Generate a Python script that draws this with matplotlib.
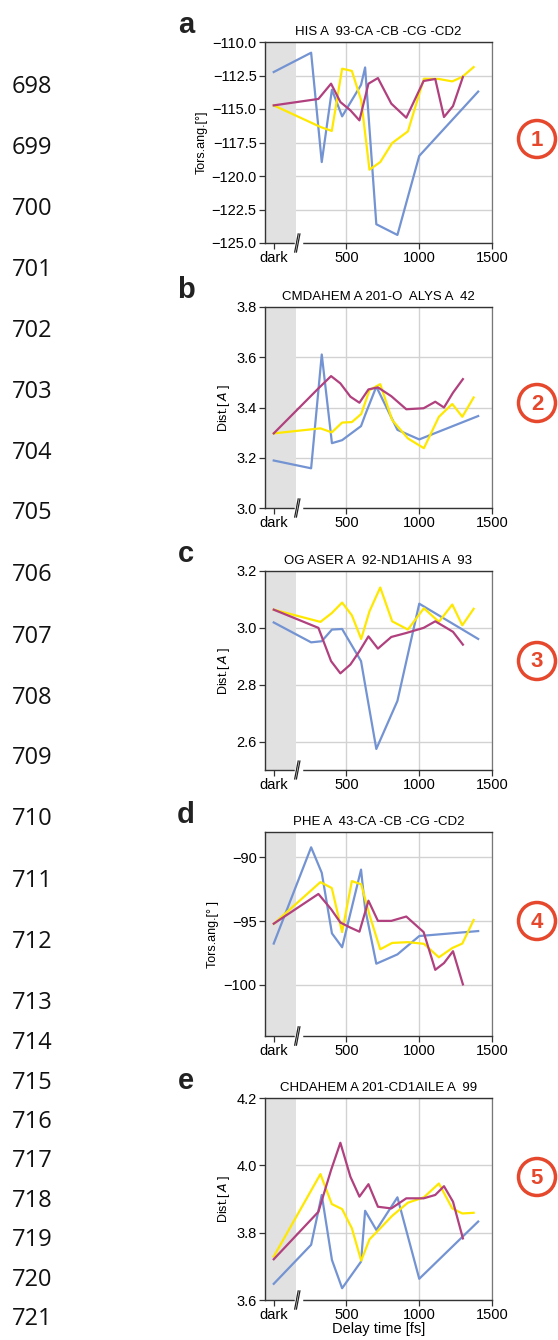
import matplotlib
matplotlib.use("Agg")
import matplotlib.pyplot as plt
from matplotlib.patches import Ellipse, Rectangle
from matplotlib.lines import Line2D
import matplotlib.transforms as mtransforms

plt.rcParams['font.family'] = ['Liberation Sans', 'DejaVu Sans']
plt.rcParams['axes.unicode_minus'] = True

# ---------------- data ----------------
t_blue = [0, 257, 330, 400, 470, 600, 628, 705, 850, 1000, 1405]
t_yellow = [0, 321, 399, 470, 537, 601, 658, 732, 814, 922, 1032, 1135, 1227, 1296, 1374]
t_purple = [0, 307, 394, 458, 527, 589, 651, 716, 808, 911, 1030, 1110, 1170, 1232, 1300]

a_blue = [-112.24, -110.8, -118.96, -113.56, -115.55, -113.2, -111.9, -123.6, -124.4, -118.5, -113.7]
a_yellow = [-114.73, -116.34, -116.64, -111.99, -112.16, -114.35, -119.53, -118.96, -117.54, -116.67,
            -112.74, -112.76, -112.94, -112.6, -111.87]
a_purple = [-114.73, -114.25, -113.11, -114.48, -115.1, -115.85, -113.11, -112.69, -114.6, -115.65,
            -112.91, -112.76, -115.6, -114.78, -112.61]

b_blue = [3.189, 3.158, 3.611, 3.258, 3.27, 3.326, 3.37, 3.483, 3.311, 3.273, 3.366]
b_yellow = [3.297, 3.317, 3.301, 3.340, 3.342, 3.374, 3.469, 3.493, 3.350, 3.277, 3.238, 3.363,
            3.414, 3.363, 3.440]
b_purple = [3.297, 3.476, 3.525, 3.496, 3.443, 3.419, 3.472, 3.48, 3.445, 3.393, 3.397, 3.423,
            3.40, 3.459, 3.513]

c_blue = [3.019, 2.949, 2.953, 2.994, 2.996, 2.883, 2.80, 2.574, 2.743, 3.085, 2.961]
c_yellow = [3.064, 3.021, 3.052, 3.089, 3.044, 2.961, 3.058, 3.142, 3.023, 2.994, 3.069, 3.021,
            3.082, 3.009, 3.067]
c_purple = [3.064, 3.0, 2.883, 2.84, 2.871, 2.918, 2.970, 2.927, 2.968, 2.982, 3.0, 3.023,
            3.005, 2.986, 2.941]

d_blue = [-96.75, -89.2, -91.2, -95.95, -97.04, -90.95, -94.0, -98.33, -97.6, -96.16, -95.77]
d_yellow = [-95.2, -91.93, -92.4, -95.85, -91.85, -92.1, -94.5, -97.2, -96.7, -96.64, -96.77,
            -97.83, -97.1, -96.75, -94.9]
d_purple = [-95.19, -92.86, -94.05, -95.1, -95.5, -95.82, -93.39, -94.97, -94.97, -94.63, -95.85,
            -98.81, -98.28, -97.35, -99.95]

e_blue = [3.648, 3.764, 3.912, 3.719, 3.635, 3.714, 3.865, 3.808, 3.905, 3.663, 3.833]
e_yellow = [3.729, 3.974, 3.885, 3.870, 3.813, 3.717, 3.780, 3.813, 3.850, 3.889, 3.905, 3.946,
            3.872, 3.857, 3.859]
e_purple = [3.721, 3.862, 3.986, 4.067, 3.966, 3.907, 3.944, 3.877, 3.872, 3.902, 3.902, 3.912,
            3.938, 3.892, 3.783]

panel_letters = ['a', 'b', 'c', 'd', 'e']
panel_titles = ['HIS A  93-CA -CB -CG -CD2', 'CMDAHEM A 201-O  ALYS A  42',
                'OG ASER A  92-ND1AHIS A  93', 'PHE A  43-CA -CB -CG -CD2',
                'CHDAHEM A 201-CD1AILE A  99']
ylabels = ['Tors.ang.[°]', 'Dist.[ $A$ ]', 'Dist.[ $A$ ]', 'Tors.ang.[° ]', 'Dist.[ $A$ ]']
yticks_list = [[-125, -122.5, -120, -117.5, -115, -112.5, -110],
               [3.0, 3.2, 3.4, 3.6, 3.8],
               [2.6, 2.8, 3.0, 3.2],
               [-100, -95, -90],
               [3.6, 3.8, 4.0, 4.2]]
ylims = [(-125, -110), (3.0, 3.8), (2.5, 3.2), (-104, -88), (3.6, 4.2)]
yfmts = ['%.1f', '%.1f', '%.1f', '%d', '%.1f']
xticks = [0, 500, 1000, 1500]
xticklabels = ['dark', '500', '1000', '1500']
line_numbers = list(range(698, 722))
line_number_y = [87, 148, 209, 270, 331, 392, 453, 513, 575, 637, 698, 758, 819, 881, 942,
                 1003, 1043, 1083, 1122, 1161, 1201, 1240, 1280, 1319]
circle_labels = ['1', '2', '3', '4', '5']
circle_y = [139, 403, 661, 921, 1177]

series = [(a_blue, a_yellow, a_purple), (b_blue, b_yellow, b_purple), (c_blue, c_yellow, c_purple),
          (d_blue, d_yellow, d_purple), (e_blue, e_yellow, e_purple)]

# ---------------- layout ----------------
W, H = 558, 1340
fig = plt.figure(figsize=(W / 100, H / 100), dpi=100)
boxes = [(42, 243), (307, 508), (571, 770), (832, 1036), (1098, 1300)]
left_px, right_px = 265, 492

c_blue_col = '#7393d2'
c_yel_col = '#ffe800'
c_pur_col = '#b0407e'
red = '#e5482c'

for i, (top, bot) in enumerate(boxes):
    ax = fig.add_axes([left_px / W, 1 - bot / H, (right_px - left_px) / W, (bot - top) / H])
    ax.set_xlim(-60, 1500)
    ax.set_ylim(*ylims[i])
    ax.add_patch(Rectangle((-60, ylims[i][0]), 210, ylims[i][1] - ylims[i][0],
                           facecolor='#e1e1e1', edgecolor='none', zorder=1))
    ax.set_axisbelow(True)
    ax.grid(True, color='#d2d2d2', lw=1.0, zorder=0)
    bl, ye, pu = series[i]
    ax.plot(t_blue, bl, color=c_blue_col, lw=1.6, zorder=3)
    ax.plot(t_yellow, ye, color=c_yel_col, lw=1.6, zorder=4)
    ax.plot(t_purple, pu, color=c_pur_col, lw=1.6, zorder=5)
    ax.set_xticks(xticks)
    ax.set_xticklabels(xticklabels)
    ax.set_yticks(yticks_list[i])
    ax.set_yticklabels([(yfmts[i] % v).replace('-', '\u2212') for v in yticks_list[i]])
    ax.tick_params(axis='both', labelsize=10.5, length=4, width=0.9, color='#333333', pad=2)
    for s in ['left', 'bottom', 'top']:
        ax.spines[s].set_color('#333333')
        ax.spines[s].set_linewidth(1.0)
    ax.spines['right'].set_color('#777777')
    ax.spines['right'].set_linewidth(0.9)
    ax.set_ylabel(ylabels[i], fontsize=9, labelpad=3)
    ax.set_title(panel_titles[i], fontsize=9.5, pad=5)
    # axis break marks
    tr = mtransforms.blended_transform_factory(ax.transData, ax.transAxes)
    ax.add_line(Line2D([150, 185], [0, 0], transform=tr, color='white', lw=2.5,
                       clip_on=False, zorder=6))
    for dx in (-6, 6):
        ax.add_line(Line2D([162 + dx - 12, 162 + dx + 12], [-0.045, 0.045], transform=tr,
                           color='#222222', lw=0.9, clip_on=False, zorder=7))
    if i == 4:
        ax.set_xlabel('Delay time [fs]', fontsize=10.5, labelpad=0)
    # panel letter
    fig.text(186 / W, 1 - (top - 9) / H, panel_letters[i], fontsize=21, fontweight='bold',
             ha='center', va='baseline', color='#222222')

# line numbers at the left
for n, yp in zip(line_numbers, line_number_y):
    fig.text(12 / W, 1 - yp / H, str(n), fontsize=17, family='Open Sans', ha='left',
             va='center', color='#111111')

# circled markers on the right
for lab, yp in zip(circle_labels, circle_y):
    fig.add_artist(Ellipse((537 / W, 1 - yp / H), 37 / W, 37 / H, transform=fig.transFigure,
                           fill=False, edgecolor=red, lw=2.5))
    fig.text(537 / W, 1 - (yp + 1) / H, lab, fontsize=16, fontweight='bold', color=red,
             ha='center', va='center')

fig.savefig('out.png', dpi=100)
